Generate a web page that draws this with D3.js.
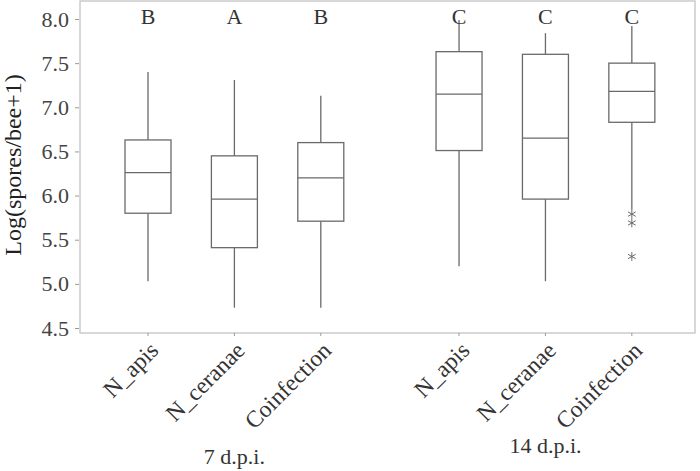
<!DOCTYPE html>
<html><head><meta charset="utf-8">
<script src="https://cdn.jsdelivr.net/npm/d3@7"></script>
<style>body{margin:0;background:#fff}svg{display:block}</style>
</head><body><svg id="c" width="700" height="471"></svg>
<script>
const groups = ["7 d.p.i.", "14 d.p.i."];
const categories = ["N_apis", "N_ceranae", "Coinfection"];
const groupOf = [0,0,0,1,1,1];
const catOf = [0,1,2,0,1,2];
const whiskerLow = [5.03, 4.73, 4.73, 5.20, 5.03, 5.84];
const q1 = [5.80, 5.41, 5.71, 6.51, 5.96, 6.83];
const median = [6.26, 5.96, 6.20, 7.15, 6.65, 7.18];
const q3 = [6.63, 6.45, 6.60, 7.63, 7.60, 7.50];
const whiskerHigh = [7.40, 7.31, 7.13, 7.99, 7.84, 7.92];
const letters = ["B","A","B","C","C","C"];
const outliers = [[],[],[],[],[],[5.79, 5.69, 5.31]];
const yTicks = [4.5,5.0,5.5,6.0,6.5,7.0,7.5,8.0];

const FONT = '"Liberation Serif", "Times New Roman", serif';
const svg = d3.select("#c");
const frame = {l:80, r:695, t:1, b:333};
const y = d3.scaleLinear().domain([4.5, 8.0]).range([328, 19]);
const gapSlots = 0.6;
const slot = i => groupOf[i]*(categories.length + gapSlots) + catOf[i];
const x = d3.scaleLinear().domain([0, 1]).range([148, 234.4]);
const boxW = 46;
const gray = "#6a6a6a";

svg.append("rect").attr("x",frame.l).attr("y",frame.t).attr("width",frame.r-frame.l).attr("height",frame.b-frame.t)
  .attr("fill","none").attr("stroke","#c4c4c4").attr("stroke-width",1.3);

// y axis
const yAxis = svg.append("g").attr("transform",`translate(${frame.l-1},0)`)
  .call(d3.axisLeft(y).tickValues(yTicks).tickFormat(d3.format(".1f")).tickSize(4).tickPadding(6));
yAxis.select(".domain").remove();
yAxis.selectAll("line").attr("stroke","#999");
yAxis.selectAll("text").style("font-family",FONT).attr("font-size",22).attr("fill","#444");

svg.append("text").attr("transform","translate(13,165) rotate(-90)").attr("text-anchor","middle").attr("dy","0.32em")
  .style("font-family",FONT).attr("font-size",24).attr("fill","#222").text("Log(spores/bee+1)");

const idx = d3.range(q1.length);
// x ticks
svg.selectAll(".xt").data(idx).join("line").attr("x1",i=>x(slot(i))).attr("x2",i=>x(slot(i)))
  .attr("y1",frame.b).attr("y2",frame.b+3).attr("stroke","#999");
svg.selectAll(".xl").data(idx).join("text")
  .attr("transform",i=>`translate(${x(slot(i))+6},${frame.b+13}) rotate(-45)`)
  .attr("text-anchor","end").attr("dy","0.35em").style("font-family",FONT).attr("font-size",23.5).attr("fill","#333")
  .text(i=>categories[catOf[i]]);
// group labels
groups.forEach((g,gi)=>{
  const members = idx.filter(i=>groupOf[i]===gi);
  const cx = d3.mean(members, i=>x(slot(i)));
  svg.append("text").attr("x",cx).attr("y",gi===0?464:453).attr("text-anchor","middle")
    .style("font-family",FONT).attr("font-size",22).attr("fill","#333").text(g);
});

const bx = svg.append("g").attr("stroke",gray).attr("stroke-width",1.3).attr("fill","none");
idx.forEach(i=>{
  const cx = x(slot(i));
  bx.append("line").attr("x1",cx).attr("x2",cx).attr("y1",y(whiskerHigh[i])).attr("y2",y(q3[i]));
  bx.append("line").attr("x1",cx).attr("x2",cx).attr("y1",y(q1[i])).attr("y2",y(whiskerLow[i]));
  bx.append("rect").attr("x",cx-boxW/2).attr("y",y(q3[i])).attr("width",boxW).attr("height",y(q1[i])-y(q3[i])).attr("fill","#fff");
  bx.append("line").attr("x1",cx-boxW/2).attr("x2",cx+boxW/2).attr("y1",y(median[i])).attr("y2",y(median[i]));
  outliers[i].forEach(v=>{
    bx.append("path").attr("d",d3.symbol(d3.symbolAsterisk,55)()).attr("transform",`translate(${cx},${y(v)})`).attr("stroke-width",1);
  });
});
svg.selectAll(".lt").data(idx).join("text").attr("x",i=>x(slot(i))).attr("y",24).attr("text-anchor","middle")
  .style("font-family",FONT).attr("font-size",22).attr("fill","#333").text(i=>letters[i]);
</script></body></html>
